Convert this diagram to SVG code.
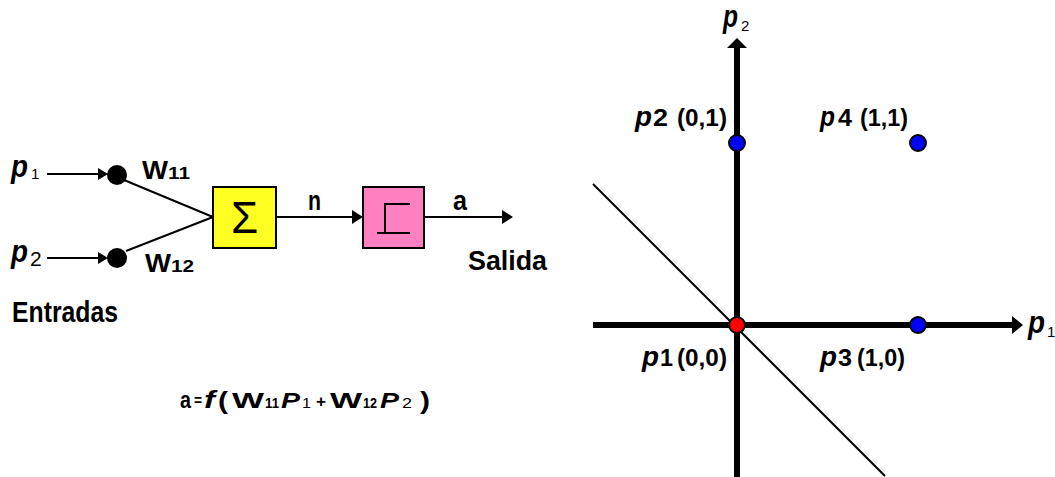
<svg xmlns="http://www.w3.org/2000/svg" width="1055" height="477" viewBox="0 0 1055 477">
<style>
text{font-family:"Liberation Sans",Arial,sans-serif;font-weight:bold;fill:#000}
.it{font-style:italic}
.sub{font-weight:normal}
.ln{stroke:#000;fill:none}
.dot{stroke:#000;stroke-width:2}
</style>
<rect width="1055" height="477" fill="#fff"/>
<g id="connectors">
<line class="ln" x1="47" y1="174" x2="99" y2="174" stroke-width="2"/>
<polygon points="108,174 98,168 98,180"/>
<line class="ln" x1="47" y1="258" x2="99" y2="258" stroke-width="2"/>
<polygon points="108,258 98,252 98,264"/>
<line class="ln" x1="124" y1="180" x2="213" y2="217" stroke-width="2"/>
<line class="ln" x1="126" y1="251" x2="213" y2="217" stroke-width="2"/>
<line class="ln" x1="276" y1="217" x2="353" y2="217" stroke-width="2"/>
<polygon points="363,217 352,210 352,224"/>
<line class="ln" x1="424" y1="217" x2="503" y2="217" stroke-width="2"/>
<polygon points="513,217 502,210 502,224"/>
</g>
<g id="input-p1">
<text x="11" y="177" font-size="31" class="it" textLength="17" lengthAdjust="spacingAndGlyphs">p</text>
<text x="31" y="179" font-size="15" class="sub">1</text>
<circle cx="117" cy="175" r="10" fill="#000"/>
</g>
<g id="input-p2">
<text x="11" y="262" font-size="31" class="it" textLength="17" lengthAdjust="spacingAndGlyphs">p</text>
<text x="30" y="266" font-size="21" class="sub">2</text>
<circle cx="117" cy="258" r="10" fill="#000"/>
</g>
<g id="w11"><text x="142" y="179" font-size="25" textLength="26" lengthAdjust="spacingAndGlyphs">W</text><text x="168" y="179" font-size="16" textLength="22" lengthAdjust="spacingAndGlyphs">11</text></g>
<g id="w12"><text x="145" y="272" font-size="25" textLength="26" lengthAdjust="spacingAndGlyphs">W</text><text x="171" y="272" font-size="16" textLength="23" lengthAdjust="spacingAndGlyphs">12</text></g>
<g id="entradas"><text x="12" y="322" font-size="30" textLength="106" lengthAdjust="spacingAndGlyphs">Entradas</text></g>
<g id="sum">
<rect x="213" y="187" width="63" height="61" fill="#ffff22" stroke="#000" stroke-width="2"/>
<text x="244.5" y="233" font-size="44" text-anchor="middle" style="font-weight:normal">Σ</text>
</g>
<g id="n-label"><text x="308" y="210" font-size="27" textLength="13" lengthAdjust="spacingAndGlyphs">n</text></g>
<g id="step">
<rect x="363" y="187" width="61" height="61" fill="#ff80c0" stroke="#000" stroke-width="2"/>
<polyline class="ln" points="377,233 385,233 385,204 410,204" stroke-width="2"/>
<line class="ln" x1="385" y1="233" x2="410" y2="233" stroke-width="2"/>
</g>
<g id="a-label"><text x="453" y="210" font-size="27" textLength="14" lengthAdjust="spacingAndGlyphs">a</text></g>
<g id="salida"><text x="468" y="270" font-size="28" textLength="79" lengthAdjust="spacingAndGlyphs">Salida</text></g>
<g id="formula">
<text x="180" y="408" font-size="23" textLength="11" lengthAdjust="spacingAndGlyphs">a</text>
<text x="194" y="406" font-size="17" textLength="8" lengthAdjust="spacingAndGlyphs">=</text>
<text x="204" y="408" font-size="24" class="it" textLength="11" lengthAdjust="spacingAndGlyphs">f</text>
<text x="218" y="409" font-size="24" textLength="10" lengthAdjust="spacingAndGlyphs">(</text>
<text x="232" y="408" font-size="22" textLength="32" lengthAdjust="spacingAndGlyphs">W</text>
<text x="265" y="408" font-size="15" textLength="14" lengthAdjust="spacingAndGlyphs">11</text>
<text x="281" y="408" font-size="22" class="it" textLength="19" lengthAdjust="spacingAndGlyphs">P</text>
<text x="302" y="408" font-size="15" class="sub" textLength="9" lengthAdjust="spacingAndGlyphs">1</text>
<text x="316" y="407" font-size="16" textLength="10" lengthAdjust="spacingAndGlyphs">+</text>
<text x="330" y="408" font-size="22" textLength="32" lengthAdjust="spacingAndGlyphs">W</text>
<text x="363" y="408" font-size="15" textLength="14" lengthAdjust="spacingAndGlyphs">12</text>
<text x="380" y="408" font-size="22" class="it" textLength="19" lengthAdjust="spacingAndGlyphs">P</text>
<text x="402" y="408" font-size="15" class="sub" textLength="10" lengthAdjust="spacingAndGlyphs">2</text>
<text x="420" y="409" font-size="24" textLength="10" lengthAdjust="spacingAndGlyphs">)</text>
</g>
<g id="axes">
<line class="ln" x1="593" y1="184" x2="885" y2="476" stroke-width="2"/>
<line class="ln" x1="737" y1="46" x2="737" y2="477" stroke-width="6"/>
<polygon points="737,38 727,48 747,48"/>
<line class="ln" x1="593" y1="325" x2="1013" y2="325" stroke-width="6"/>
<polygon points="1023,325 1012,316 1012,334"/>
<text x="723" y="27" font-size="31" class="it" textLength="15" lengthAdjust="spacingAndGlyphs">p</text>
<text x="741" y="31" font-size="15" class="sub">2</text>
<text x="1028" y="333" font-size="31" class="it" textLength="17" lengthAdjust="spacingAndGlyphs">p</text>
<text x="1047" y="337" font-size="15" class="sub">1</text>
</g>
<g id="pt-p1">
<circle class="dot" cx="737" cy="325" r="8" fill="#ff0000"/>
<text x="642" y="366" font-size="28" class="it" textLength="17" lengthAdjust="spacingAndGlyphs">p</text>
<text x="660" y="366" font-size="24" textLength="13" lengthAdjust="spacingAndGlyphs">1</text>
<text x="677" y="366" font-size="24" textLength="50" lengthAdjust="spacingAndGlyphs">(0,0)</text>
</g>
<g id="pt-p2">
<circle class="dot" cx="737" cy="143" r="8" fill="#0000ff"/>
<text x="635" y="126" font-size="28" class="it" textLength="17" lengthAdjust="spacingAndGlyphs">p</text>
<text x="653" y="126" font-size="24" textLength="15" lengthAdjust="spacingAndGlyphs">2</text>
<text x="677" y="126" font-size="24" textLength="50" lengthAdjust="spacingAndGlyphs">(0,1)</text>
</g>
<g id="pt-p3">
<circle class="dot" cx="918" cy="325" r="8" fill="#0000ff"/>
<text x="820" y="366" font-size="28" class="it" textLength="17" lengthAdjust="spacingAndGlyphs">p</text>
<text x="838" y="366" font-size="24" textLength="14" lengthAdjust="spacingAndGlyphs">3</text>
<text x="857" y="366" font-size="24" textLength="48" lengthAdjust="spacingAndGlyphs">(1,0)</text>
</g>
<g id="pt-p4">
<circle class="dot" cx="918" cy="143" r="8" fill="#0000ff"/>
<text x="820" y="126" font-size="28" class="it" textLength="15" lengthAdjust="spacingAndGlyphs">p</text>
<text x="838" y="126" font-size="24" textLength="14" lengthAdjust="spacingAndGlyphs">4</text>
<text x="860" y="126" font-size="24" textLength="48" lengthAdjust="spacingAndGlyphs">(1,1)</text>
</g>
</svg>
